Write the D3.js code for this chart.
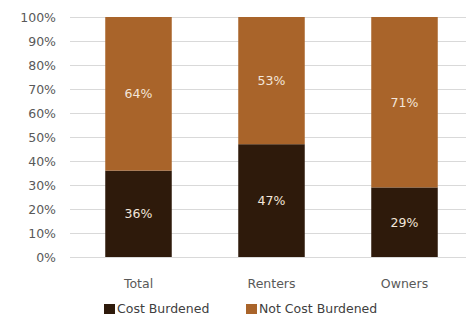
<!DOCTYPE html>
<html><head><meta charset="utf-8">
<script src="https://cdn.jsdelivr.net/npm/d3@7"></script>
<style>body{margin:0;background:#fff}svg{display:block}text{font-family:"DejaVu Sans","Liberation Sans",sans-serif}</style>
</head><body>
<script>
const categories = ["Total", "Renters", "Owners"];
const costBurdened = [36, 47, 29];
const notCostBurdened = [64, 53, 71];
const seriesNames = ["Cost Burdened", "Not Cost Burdened"];
const yTicks = [0, 10, 20, 30, 40, 50, 60, 70, 80, 90, 100];
const colors = ["#2e1a0b", "#a9642a"];

const W = 466, H = 320;
const svg = d3.select("body").append("svg").attr("width", W).attr("height", H);
const x = d3.scaleBand().domain(categories).range([72, 471]).paddingInner(0.5).paddingOuter(0.25);
const y = d3.scaleLinear().domain([0, 100]).range([257, 17]);

const yAxis = svg.append("g").attr("transform", "translate(70,0)")
  .call(d3.axisLeft(y).tickValues(yTicks).tickFormat(d => d + "%").tickSize(-(W - 70)).tickPadding(14));
yAxis.select(".domain").remove();
yAxis.selectAll(".tick line").attr("stroke", "#d9d9d9").attr("stroke-width", 1);
yAxis.selectAll(".tick text").attr("fill", "#595959").style("font-size", "12.5px");

const rows = categories.map((c, i) => ({c, v: [costBurdened[i], notCostBurdened[i]]}));
rows.forEach(r => {
  let base = 0;
  r.v.forEach((v, k) => {
    svg.append("rect").attr("x", x(r.c)).attr("width", x.bandwidth())
      .attr("y", y(base + v)).attr("height", y(base) - y(base + v)).attr("fill", colors[k]);
    svg.append("text").attr("x", x(r.c) + x.bandwidth() / 2).attr("y", (y(base) + y(base + v)) / 2)
      .attr("dy", "0.35em").attr("text-anchor", "middle").attr("fill", "#f3e6da")
      .style("font-size", "12.5px").text(v + "%");
    base += v;
  });
});

const xAxis = svg.append("g").attr("transform", "translate(0,257)")
  .call(d3.axisBottom(x).tickSize(0).tickPadding(22));
xAxis.select(".domain").remove();
xAxis.selectAll(".tick text").attr("fill", "#595959").style("font-size", "12.5px");

const legendX = [104, 246];
seriesNames.forEach((s, k) => {
  const g = svg.append("g").attr("transform", `translate(${legendX[k]},309)`);
  g.append("rect").attr("x", 0).attr("y", -5).attr("width", 11).attr("height", 10).attr("fill", colors[k]);
  g.append("text").attr("x", 13).attr("dy", "0.35em").attr("fill", "#404040").style("font-size", "12.5px").text(s);
});
</script>
</body></html>
